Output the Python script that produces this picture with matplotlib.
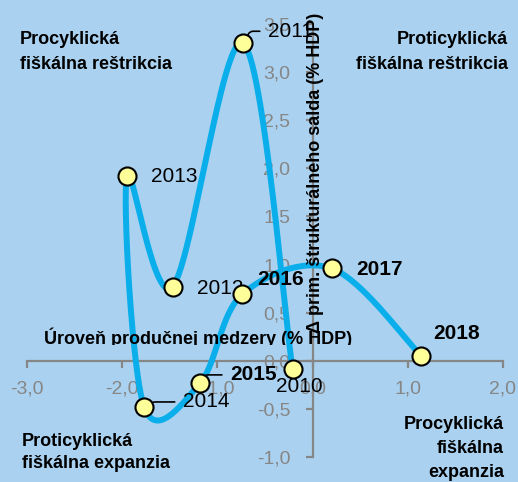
import numpy as np
import matplotlib
matplotlib.use('Agg')
import matplotlib.pyplot as plt
from matplotlib.transforms import Bbox, TransformedBbox

# Data
years = ['2010', '2011', '2012', '2013', '2014', '2015', '2016', '2017', '2018']
output_gap = [-0.21, -0.73, -1.47, -1.95, -1.77, -1.18, -0.74, 0.20, 1.14]
fiscal_change = [-0.09, 3.30, 0.77, 1.92, -0.48, -0.23, 0.69, 0.96, 0.05]

x_ticks = [-3.0, -2.0, -1.0, 0.0, 1.0, 2.0]
x_ticklabels = ['-3,0', '-2,0', '-1,0', '0,0', '1,0', '2,0']
y_ticks = [-1.0, -0.5, 0.0, 0.5, 1.0, 1.5, 2.0, 2.5, 3.0, 3.5]
y_ticklabels = ['-1,0', '-0,5', '0,0', '0,5', '1,0', '1,5', '2,0', '2,5', '3,0', '3,5']

bold_years = ['2015', '2016', '2017', '2018']

bg = '#AAD2F0'
line_col = '#0AAEEA'
grey = '#868686'

plt.rcParams['font.family'] = ['Liberation Sans', 'DejaVu Sans']


def smooth(xs, ys, n=60):
    # Catmull-Rom style smoothing (like Excel's smoothed line)
    p = np.column_stack([xs, ys])
    out = []
    for i in range(len(p) - 1):
        p0 = p[i - 1] if i > 0 else p[i]
        p1, p2 = p[i], p[i + 1]
        p3 = p[i + 2] if i + 2 < len(p) else p[i + 1]
        c1 = p1 + (p2 - p0) / 6
        c2 = p2 - (p3 - p1) / 6
        t = np.linspace(0, 1, n)[:, None]
        seg = ((1 - t) ** 3) * p1 + 3 * ((1 - t) ** 2) * t * c1 + 3 * (1 - t) * t ** 2 * c2 + t ** 3 * p2
        out.append(seg if i == 0 else seg[1:])
    out = np.vstack(out)
    return out[:, 0], out[:, 1]


fig = plt.figure(figsize=(5.18, 4.82), dpi=100)
fig.patch.set_facecolor(bg)
ax = fig.add_axes([0.0521, 0.0519, 0.9189, 0.8983])
ax.set_facecolor(bg)

sx, sy = smooth(output_gap, fiscal_change)
ax.plot(sx, sy, color=line_col, lw=4.3, solid_capstyle='round', zorder=2)
ax.plot(output_gap, fiscal_change, 'o', ms=13, mfc='#FFFF99', mec='black', mew=1.5, zorder=5)

ax.set_xlim(-3, 2)
ax.set_ylim(-1, 3.5)
for s in ['top', 'right']:
    ax.spines[s].set_visible(False)
for s in ['left', 'bottom']:
    ax.spines[s].set_position(('data', 0))
    ax.spines[s].set_color(grey)
    ax.spines[s].set_linewidth(1.6)
    ax.spines[s].set_zorder(1)

ax.set_xticks(x_ticks)
ax.set_xticklabels(x_ticklabels)
ax.set_yticks(y_ticks)
ax.set_yticklabels(y_ticklabels)
ax.tick_params(axis='both', direction='out', length=5, width=1.6, color=grey,
               labelcolor=grey, labelsize=14)
ax.tick_params(axis='x', pad=9)
ax.tick_params(axis='y', pad=11)

# year labels: offset in pixels, alignment, leader angle
label_pos = {
    '2010': (7, -17, 'center', None),
    '2011': (25, 12, 'left', 60),
    '2012': (24, -2, 'left', None),
    '2013': (24, 0, 'left', None),
    '2014': (39, 5, 'left', 30),
    '2015': (30, 8, 'left', 60),
    '2016': (15, 15, 'left', None),
    '2017': (25, -1, 'left', None),
    '2018': (12, 22, 'left', None),
}
for yr, x, y in zip(years, output_gap, fiscal_change):
    dx, dy, ha, ang = label_pos[yr]
    kw = dict(textcoords='offset pixels', ha=ha, va='center', fontsize=15,
              fontweight='bold' if yr in bold_years else 'normal', zorder=3)
    if ang is not None:
        kw['arrowprops'] = dict(arrowstyle='-', color='black', lw=1.2, shrinkA=4, shrinkB=6,
                                relpos=(0, 0.5),
                                connectionstyle='angle,angleA=0,angleB=%d,rad=3' % ang)
    ax.annotate(yr, (x, y), xytext=(dx, dy), **kw)

# axis titles (x title is cut at its baseline as in the original)
xt = ax.text(-1.2, 0.175, 'Úroveň produčnej medzery (% HDP)', ha='center', va='baseline',
             fontsize=13, fontweight='bold', zorder=3, clip_on=True)
xt.set_clip_box(TransformedBbox(Bbox([[-3, 0.165], [2, 3.5]]), ax.transData))
ax.text(0.03, 1.95, 'Δ prim. štrukturálneho salda (% HDP)', rotation=90, ha='center',
        va='center', fontsize=13, fontweight='bold', zorder=4)

# quadrant labels
qkw = dict(fontsize=13, fontweight='bold')
fig.text(20 / 518, 1 - 31 / 482, 'Procyklická\nfiškálna reštrikcia', ha='left', va='top',
         linespacing=1.6, **qkw)
fig.text(508 / 518, 1 - 31 / 482, 'Proticyklická\nfiškálna reštrikcia', ha='right', va='top',
         multialignment='right', linespacing=1.6, **qkw)
fig.text(22 / 518, 1 - 433 / 482, 'Proticyklická\nfiškálna expanzia', ha='left', va='top',
         linespacing=1.4, **qkw)
fig.text(504 / 518, 1 - 416 / 482, 'Procyklická\nfiškálna\nexpanzia', ha='right', va='top',
         multialignment='right', linespacing=1.55, **qkw)

fig.savefig('out.png', dpi=100, facecolor=bg)
